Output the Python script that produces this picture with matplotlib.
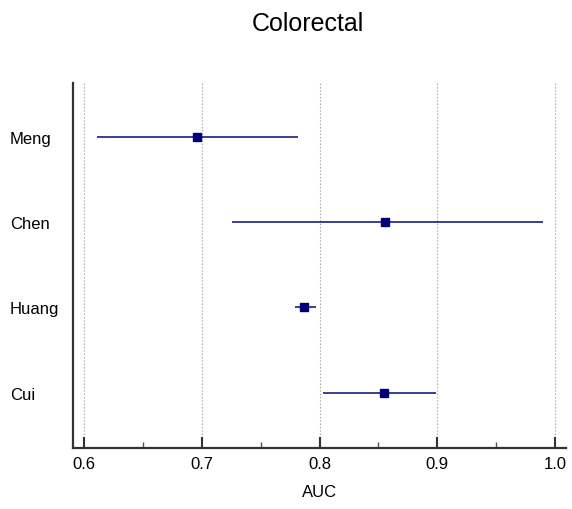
import matplotlib
matplotlib.use("Agg")
import matplotlib.pyplot as plt
from matplotlib.ticker import MultipleLocator

plt.rcParams['font.family'] = ['Liberation Sans', 'DejaVu Sans']

studies = ["Meng", "Chen", "Huang", "Cui"]
auc = [0.696, 0.856, 0.787, 0.855]
ci_low = [0.611, 0.726, 0.779, 0.803]
ci_high = [0.782, 0.990, 0.797, 0.899]

W, H = 572, 510
fig = plt.figure(figsize=(W / 100, H / 100), dpi=100)
ax = fig.add_axes([73 / W, 1 - 449 / H, (566 - 73) / W, (449 - 84) / H])

ypos = list(range(len(studies), 0, -1))
line_col = "#2e2e88"
mark_col = "#00007a"

for y, a, lo, hi in zip(ypos, auc, ci_low, ci_high):
    ax.plot([lo, hi], [y, y], color=line_col, lw=1.3, solid_capstyle="butt", zorder=3)
    ax.plot([a], [y], marker="s", ms=6.2, color=mark_col, mec=mark_col, zorder=4)

ax.set_xlim(0.5907, 1.0093)
ax.set_ylim(0.352, 4.63)

ax.xaxis.set_major_locator(MultipleLocator(0.1))
ax.xaxis.set_minor_locator(MultipleLocator(0.05))
ax.xaxis.set_major_formatter(plt.FuncFormatter(lambda v, p: f"{v:.1f}"))
ax.tick_params(axis="x", which="major", direction="in", length=8, width=1.5,
               color="#333333", labelsize=12, pad=6)
ax.tick_params(axis="x", which="minor", direction="in", length=4, width=1,
               color="#555555")
ax.grid(axis="x", which="major", linestyle=(0, (1.5, 1.5)), color="#b0b0b0", lw=0.8)
ax.set_axisbelow(True)

ax.set_yticks(ypos)
ax.set_yticklabels(studies, fontsize=12, ha="left")
ax.tick_params(axis="y", length=0, pad=45.4)

for s in ("top", "right"):
    ax.spines[s].set_visible(False)
for s in ("left", "bottom"):
    ax.spines[s].set_linewidth(1.6)
    ax.spines[s].set_color("#333333")

ax.set_xlabel("AUC", fontsize=12, labelpad=9)
fig.text(308 / W, 1 - 24 / H, "Colorectal", fontsize=18, ha="center", va="center")

fig.savefig("out.png", dpi=100)
